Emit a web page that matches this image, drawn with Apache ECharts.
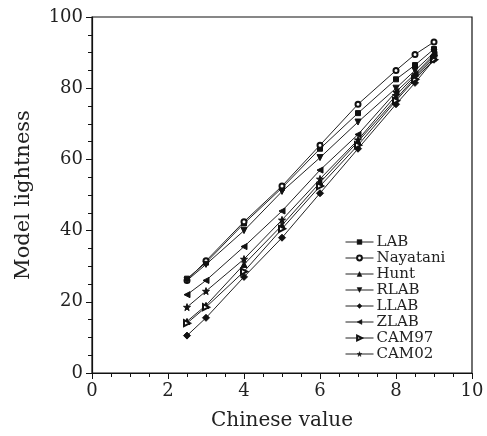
<!DOCTYPE html>
<html>
<head>
<meta charset="utf-8">
<script src="https://cdn.jsdelivr.net/npm/echarts@6/dist/echarts.min.js"></script>
<style>html,body{margin:0;padding:0;background:#fff}#c{width:487px;height:436px}</style>
</head>
<body>
<div id="c"></div>
<script>
const xValues = [2.5, 3, 4, 5, 6, 7, 8, 8.5, 9];
const LAB      = [26.5, 31, 42, 52, 63, 73, 82.5, 86.5, 91];
const Nayatani = [26, 31.5, 42.5, 52.5, 64, 75.5, 85, 89.5, 93];
const Hunt     = [14.5, 19, 30.5, 41.5, 53.5, 65, 77, 83, 88.5];
const RLAB     = [26, 30.5, 40, 51, 60.5, 70.5, 80, 85, 90];
const LLAB     = [10.5, 15.5, 27, 38, 50.5, 63, 75.5, 81.5, 88];
const ZLAB     = [22, 26, 35.5, 45.5, 57, 67, 79, 84, 89.5];
const CAM97    = [14, 18.5, 28.5, 40.5, 52.5, 64, 76.5, 82.5, 88];
const CAM02    = [18.5, 23, 32, 43, 54.5, 65.5, 78, 83.5, 89];

const star = 'path://M50,0 L61,35 L98,35 L68,57 L79,91 L50,70 L21,91 L32,57 L2,35 L39,35 Z';
const FONT = 'DejaVu Serif';

function mk(name, data, symbol, rot, size) {
  return {
    name: name, type: 'line',
    data: xValues.map((x, i) => [x, data[i]]),
    symbol: symbol, symbolRotate: rot || 0, symbolSize: size || 6,
    lineStyle: { color: '#222', width: 1 },
    itemStyle: { color: '#111', borderColor: '#111', borderWidth: 1 },
    animation: false
  };
}

const chart = echarts.init(document.getElementById('c'));
chart.setOption({
  backgroundColor: '#fff',
  animation: false,
  grid: { left: 92, right: 15, top: 17, bottom: 58, show: true, borderColor: '#111', borderWidth: 1.2, backgroundColor: 'transparent' },
  legend: {
    orient: 'vertical', left: 340, top: 229, itemGap: 0, itemWidth: 28, itemHeight: 6,
    itemStyle: { borderWidth: 0.5 },
    lineStyle: { width: 1 },
    textStyle: { fontFamily: FONT, fontSize: 15, lineHeight: 16, color: '#222', padding: [0, 0, 0, -2] },
    data: ['LAB', 'Nayatani', 'Hunt', 'RLAB', 'LLAB', 'ZLAB', 'CAM97', 'CAM02']
  },
  xAxis: {
    type: 'value', min: 0, max: 10, interval: 2,
    name: 'Chinese value', nameLocation: 'middle', nameGap: 38,
    nameTextStyle: { fontFamily: FONT, fontSize: 20, color: '#222' },
    axisLine: { lineStyle: { color: '#111', width: 1.2 } },
    axisTick: { show: true, length: 6, lineStyle: { color: '#111' } },
    minorTick: { show: true, splitNumber: 4, length: 4, lineStyle: { color: '#111' } },
    axisLabel: { fontFamily: FONT, fontSize: 18, color: '#222', margin: 9 },
    splitLine: { show: false }
  },
  yAxis: {
    type: 'value', min: 0, max: 100, interval: 20,
    name: 'Model lightness', nameLocation: 'middle', nameGap: 58,
    nameTextStyle: { fontFamily: FONT, fontSize: 21, color: '#222' },
    axisLine: { show: true, lineStyle: { color: '#111', width: 1.2 } },
    axisTick: { show: true, length: 6, lineStyle: { color: '#111' } },
    minorTick: { show: true, splitNumber: 4, length: 4, lineStyle: { color: '#111' } },
    axisLabel: { fontFamily: FONT, fontSize: 18, color: '#222', margin: 9 },
    splitLine: { show: false }
  },
  series: [
    mk('LAB', LAB, 'rect', 0, 5),
    mk('Nayatani', Nayatani, 'emptyCircle', 0, 5),
    mk('Hunt', Hunt, 'triangle', 0, 6),
    mk('RLAB', RLAB, 'triangle', 180, 6),
    mk('LLAB', LLAB, 'diamond', 0, 7),
    mk('ZLAB', ZLAB, 'triangle', 90, 6),
    mk('CAM97', CAM97, 'emptyTriangle', -90, 6),
    mk('CAM02', CAM02, star, 0, 7)
  ]
});
</script>
</body>
</html>
